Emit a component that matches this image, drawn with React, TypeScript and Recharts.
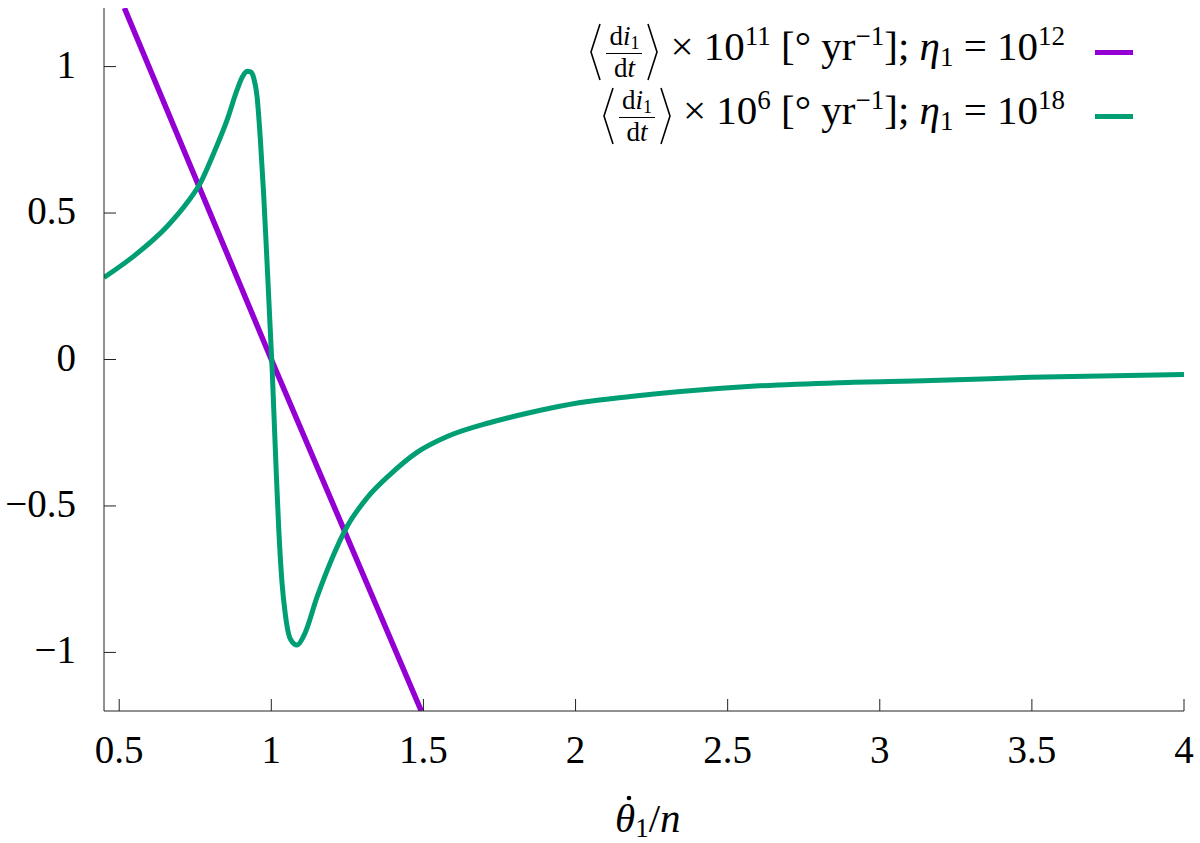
import React from 'react';
import { LineChart, Line, XAxis, YAxis, Legend } from 'recharts';

// ---------- data ----------
const purpleX = [0.517, 1.0, 1.493];
const purpleY = [1.2, 0.0, -1.2];

const greenX = [
  0.45, 0.548, 0.658, 0.723, 0.767, 0.811, 0.855, 0.888, 0.905, 0.92, 0.932, 0.942, 0.953, 0.964,
  0.975, 0.986, 0.997, 1.003, 1.008, 1.016, 1.024, 1.035, 1.046, 1.063, 1.085, 1.106, 1.151,
  1.194, 1.249, 1.315, 1.391, 1.479, 1.578, 1.72, 1.852, 2.016, 2.18, 2.345, 2.566, 2.865,
  3.168, 3.497, 4.0,
];
const greenY = [
  0.28, 0.353, 0.455, 0.535, 0.603, 0.705, 0.819, 0.922, 0.965, 0.984, 0.982, 0.962, 0.899, 0.751,
  0.56, 0.33, 0.09, -0.04, -0.17, -0.38, -0.57, -0.76, -0.87, -0.955, -0.975, -0.945, -0.809,
  -0.693, -0.57, -0.472, -0.392, -0.317, -0.263, -0.215, -0.181, -0.147, -0.126, -0.109, -0.092,
  -0.079, -0.072, -0.061, -0.051,
];

const xTicks = [0.5, 1, 1.5, 2, 2.5, 3, 3.5, 4];
const xTickLabels = ['0.5', '1', '1.5', '2', '2.5', '3', '3.5', '4'];
const yTicks = [-1, -0.5, 0, 0.5, 1];
const yTickLabels = ['\u22121', '\u22120.5', '0', '0.5', '1'];

const seriesColors = ['#9400D3', '#009E73'];
const seriesScaleExp = ['11', '6'];
const seriesEtaExp = ['12', '18'];

const purpleData = purpleX.map((x, i) => ({ x, y: purpleY[i] }));
const greenData = greenX.map((x, i) => ({ x, y: greenY[i] }));

const FONT = '"Liberation Serif", "Times New Roman", Times, serif';
const TICK_LEN = 12;
const BORDER = '#222';
const textStyle = { fontFamily: FONT };

// ---------- ticks ----------
const BottomTick = (props: any) => {
  const { x, y, payload } = props;
  const i = xTicks.indexOf(payload.value);
  return (
    <g>
      <line x1={x} x2={x} y1={y} y2={y - TICK_LEN} stroke={BORDER} strokeWidth={1} />
      <text x={x} y={y + 52} textAnchor="middle" style={textStyle} fontSize={39} fill="#000">
        {xTickLabels[i]}
      </text>
    </g>
  );
};
const TopTick = (props: any) => {
  const { x, y } = props;
  return <line x1={x} x2={x} y1={y} y2={y + TICK_LEN} stroke={BORDER} strokeWidth={1} />;
};
const LeftTick = (props: any) => {
  const { x, y, payload } = props;
  const i = yTicks.indexOf(payload.value);
  return (
    <g>
      <line x1={x} x2={x + TICK_LEN} y1={y} y2={y} stroke={BORDER} strokeWidth={1} />
      <text x={x - 28} y={y + 11} textAnchor="end" style={textStyle} fontSize={39} fill="#000">
        {yTickLabels[i]}
      </text>
    </g>
  );
};
const RightTick = (props: any) => {
  const { x, y } = props;
  return <line x1={x - TICK_LEN} x2={x} y1={y} y2={y} stroke={BORDER} strokeWidth={1} />;
};

// ---------- x label ----------
const XLabel = (props: any) => {
  const vb = props.viewBox || { x: 0, y: 0, width: 0, height: 0 };
  const cx = vb.x + vb.width / 2;
  const by = vb.y + 121;
  const sx = cx - 29;
  return (
    <g>
      <text x={sx} y={by} style={textStyle} fontSize={41} fill="#000">
        <tspan fontStyle="italic">θ</tspan>
        <tspan fontSize={27} dy={5}>1</tspan>
        <tspan dy={-5}>/</tspan>
        <tspan fontStyle="italic">n</tspan>
      </text>
      <circle cx={sx + 14} cy={by - 34} r={2.3} fill="#000" />
    </g>
  );
};

// ---------- legend ----------
const Bracket = ({ left }: { left: boolean }) => (
  <svg width={11} height={58} style={{ display: 'block', overflow: 'visible' }}>
    <polyline
      points={left ? '10,1 1,29 10,57' : '1,1 10,29 1,57'}
      fill="none"
      stroke="#000"
      strokeWidth={1.6}
    />
  </svg>
);

const Fraction = () => (
  <div
    style={{
      display: 'flex',
      flexDirection: 'column',
      alignItems: 'center',
      fontSize: 27,
      lineHeight: '24px',
      margin: '0 5px',
    }}
  >
    <div>
      d<i>i</i>
      <span style={{ fontSize: 18, position: 'relative', top: 4 }}>1</span>
    </div>
    <div style={{ width: 36, height: 1.5, background: '#000', margin: '2px 0' }} />
    <div>
      d<i>t</i>
    </div>
  </div>
);

const Sup = ({ children }: any) => (
  <span style={{ fontSize: 27, position: 'relative', top: -15 }}>{children}</span>
);
const Sub = ({ children }: any) => (
  <span style={{ fontSize: 27, position: 'relative', top: 6 }}>{children}</span>
);

const LegendContent = () => (
  <div style={{ fontFamily: FONT, color: '#000', width: 633 }}>
    {seriesColors.map((c, i) => (
      <div
        key={i}
        style={{
          display: 'flex',
          justifyContent: 'flex-end',
          alignItems: 'center',
          height: 64,
        }}
      >
        <Bracket left={true} />
        <Fraction />
        <Bracket left={false} />
        <span style={{ fontSize: 41, lineHeight: '41px', marginLeft: 12, whiteSpace: 'pre', position: 'relative', top: -3 }}>
          {'× 10'}
          <Sup>{seriesScaleExp[i]}</Sup>
          {' [° yr'}
          <Sup>{'\u22121'}</Sup>
          {']; '}
          <i>η</i>
          <Sub>1</Sub>
          {' = 10'}
          <Sup>{seriesEtaExp[i]}</Sup>
        </span>
        <div style={{ width: 38, height: 5, background: c, marginLeft: 30 }} />
      </div>
    ))}
  </div>
);

export default function App() {
  return (
    <div style={{ position: 'absolute', left: 0, top: 0, width: 1200, height: 843, background: '#fff' }}>
      <LineChart
        width={1200}
        height={843}
        margin={{ top: 8, right: 16, left: 0, bottom: 0 }}
      >
        <XAxis
          dataKey="x"
          type="number"
          domain={[0.45, 4]}
          allowDataOverflow
          ticks={xTicks}
          interval={0}
          height={132}
          tickSize={0}
          tickMargin={0}
          tickLine={false}
          axisLine={{ stroke: BORDER, strokeWidth: 1 }}
          tick={<BottomTick />}
          label={<XLabel />}
        />
        <XAxis
          xAxisId="top"
          orientation="top"
          dataKey="x"
          type="number"
          domain={[0.45, 4]}
          allowDataOverflow
          ticks={xTicks}
          interval={0}
          height={0}
          tickSize={0}
          tickMargin={0}
          tickLine={false}
          axisLine={{ stroke: BORDER, strokeWidth: 1 }}
          tick={<TopTick />}
        />
        <YAxis
          type="number"
          domain={[-1.2, 1.2]}
          allowDataOverflow
          ticks={yTicks}
          interval={0}
          width={104}
          tickSize={0}
          tickMargin={0}
          tickLine={false}
          axisLine={{ stroke: BORDER, strokeWidth: 1 }}
          tick={<LeftTick />}
        />
        <YAxis
          yAxisId="right"
          orientation="right"
          type="number"
          domain={[-1.2, 1.2]}
          allowDataOverflow
          ticks={yTicks}
          interval={0}
          width={0}
          tickSize={0}
          tickMargin={0}
          tickLine={false}
          axisLine={{ stroke: BORDER, strokeWidth: 1 }}
          tick={<RightTick />}
        />
        <Legend
          layout="horizontal"
          verticalAlign="middle"
          align="center"
          wrapperStyle={{ left: 500, top: 20, width: 633 }}
          content={<LegendContent />}
        />
        <Line
          data={purpleData}
          dataKey="y"
          type="linear"
          stroke={seriesColors[0]}
          strokeWidth={5.5}
          dot={false}
          activeDot={false}
          isAnimationActive={false}
        />
        <Line
          data={greenData}
          dataKey="y"
          type="monotone"
          stroke={seriesColors[1]}
          strokeWidth={5}
          dot={false}
          activeDot={false}
          isAnimationActive={false}
        />
      </LineChart>
    </div>
  );
}
